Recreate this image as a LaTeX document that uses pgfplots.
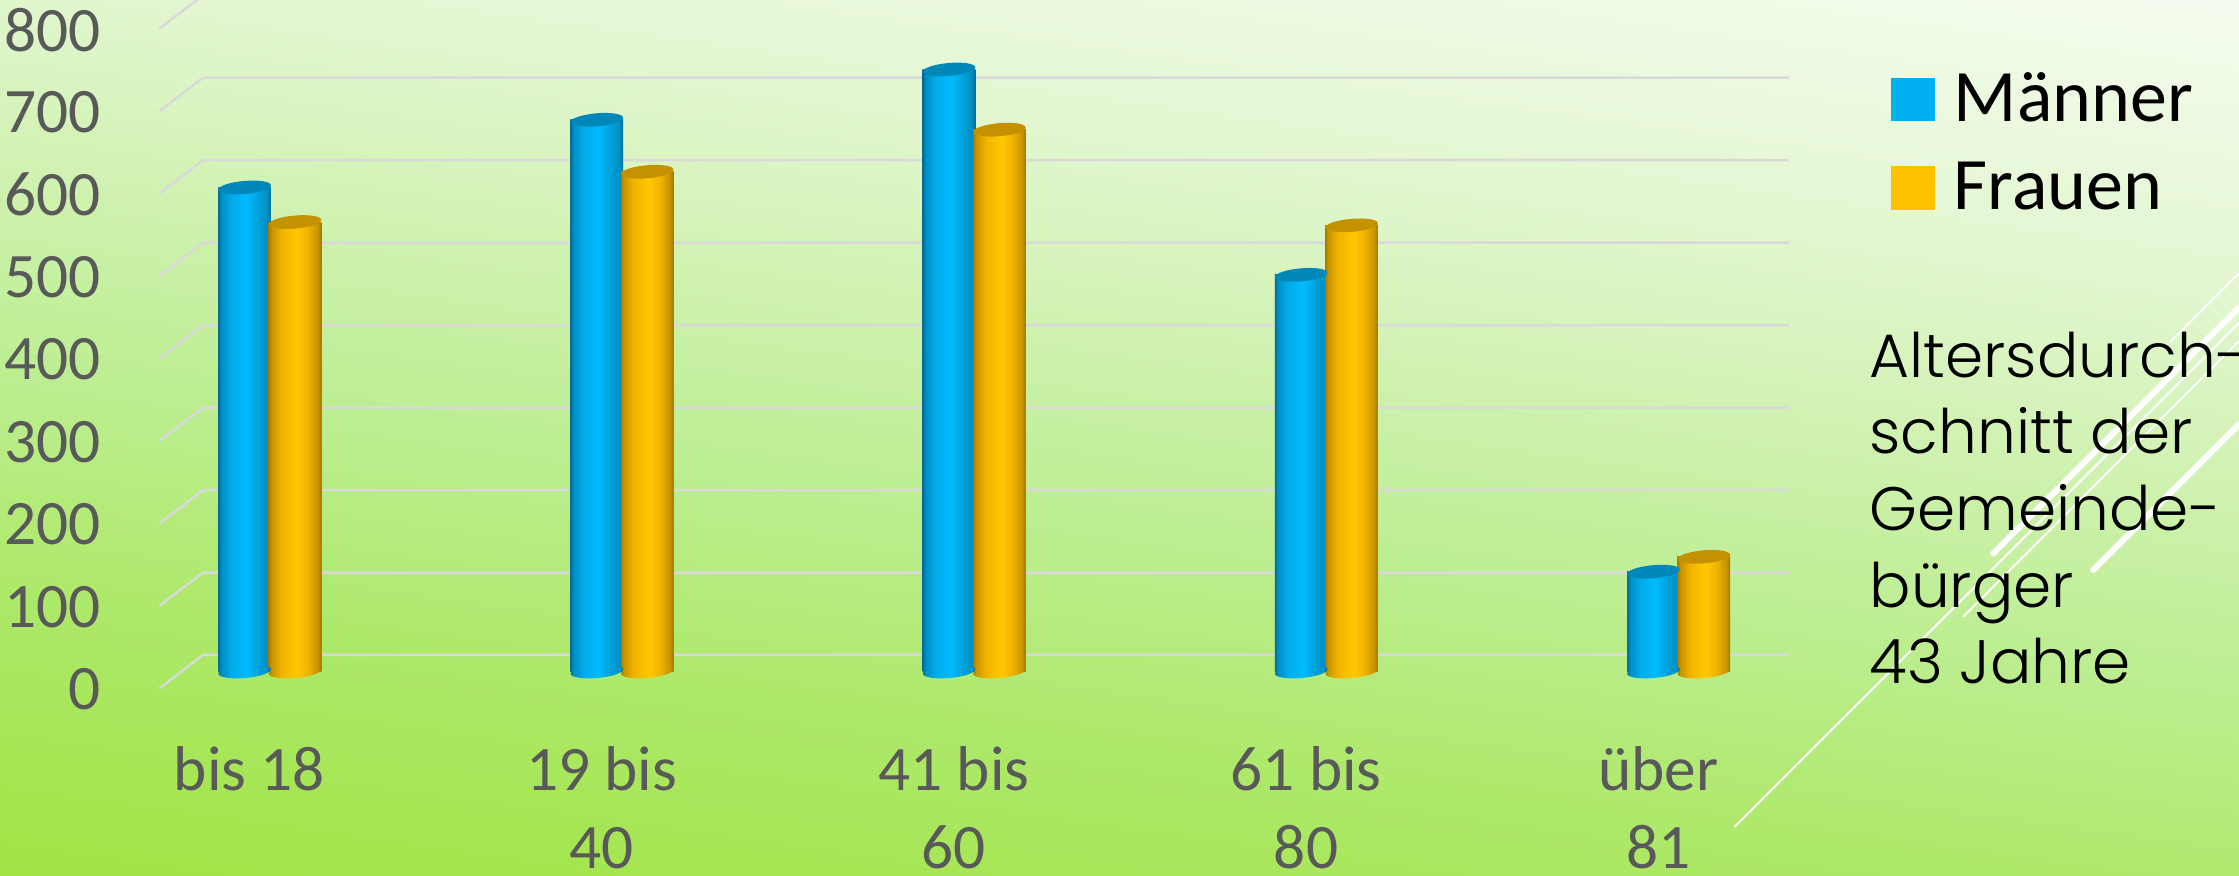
\documentclass[border=0pt]{standalone}
\usepackage{pgfplots}
\pgfplotsset{compat=1.18}
\usepackage{fontspec}
\setmainfont{Carlito}
\newfontfamily\gothic{Poppins Light}
\definecolor{tickc}{HTML}{595959}
\definecolor{gridc}{HTML}{DAD9DA}
\definecolor{mtop}{HTML}{0087BA}
\definecolor{ftop}{HTML}{C49100}
\definecolor{mleg}{HTML}{00B0F0}
\definecolor{fleg}{HTML}{FFC000}
\definecolor{b0}{HTML}{A0E444}
\definecolor{b1}{HTML}{AEE96C}
\definecolor{b2}{HTML}{BDEE92}
\definecolor{b3}{HTML}{E2F6CF}
\definecolor{b4}{HTML}{F4FCEF}
\pgfdeclareverticalshading{bggrad}{100bp}{color(0bp)=(b0); color(37.73bp)=(b0); color(43.87bp)=(b1); color(48.28bp)=(b2); color(56.13bp)=(b3); color(62.27bp)=(b4); color(100bp)=(b4)}
\definecolor{m0}{HTML}{00709A}
\definecolor{m1}{HTML}{0090C4}
\definecolor{m2}{HTML}{00ACE8}
\definecolor{m3}{HTML}{00BAFF}
\definecolor{m4}{HTML}{00A4DC}
\definecolor{m5}{HTML}{006E96}
\pgfdeclarehorizontalshading{cylM}{100bp}{color(0bp)=(m0); color(25bp)=(m0); color(28bp)=(m1); color(37bp)=(m2); color(52bp)=(m3); color(62bp)=(m4); color(71bp)=(m1); color(75bp)=(m5); color(100bp)=(m5)}
\definecolor{f0}{HTML}{A87C00}
\definecolor{f1}{HTML}{C99500}
\definecolor{f2}{HTML}{F0B400}
\definecolor{f3}{HTML}{FFC800}
\definecolor{f4}{HTML}{EFB300}
\definecolor{f5}{HTML}{A37800}
\pgfdeclarehorizontalshading{cylF}{100bp}{color(0bp)=(f0); color(25bp)=(f0); color(28bp)=(f1); color(37bp)=(f2); color(52bp)=(f3); color(62bp)=(f4); color(71bp)=(f1); color(75bp)=(f5); color(100bp)=(f5)}
\newcommand{\tiltell}{\pgftransformrotate{5}\pgfpathellipse{\pgfpointorigin}{\pgfqpoint{7.9pt}{0pt}}{\pgfqpoint{0pt}{1.95pt}}}
\pgfdeclareplotmark{capM}{\pgfsetfillcolor{mtop}\tiltell\pgfusepathqfill}
\pgfdeclareplotmark{capF}{\pgfsetfillcolor{ftop}\tiltell\pgfusepathqfill}
\pgfdeclareplotmark{baseM}{\tiltell\pgfshadepath{cylM}{0}\pgfusepath{discard}}
\pgfdeclareplotmark{baseF}{\tiltell\pgfshadepath{cylF}{0}\pgfusepath{discard}}
\pgfplotsset{
  barM/.style={forget plot,ybar,bar width=15.81pt,bar shift=-1.455pt,draw=none,shading=cylM},
  barF/.style={forget plot,ybar,bar width=15.81pt,bar shift=13.665pt,draw=none,shading=cylF},
  markM/.style={forget plot,only marks,mark=#1,mark options={xshift=-1.455pt}},
  markF/.style={forget plot,only marks,mark=#1,mark options={xshift=13.665pt}},
}
\begin{document}
\begin{tikzpicture}[x=0.3pt,y=0.3pt]
% background
\begin{scope}
\clip (0,0) rectangle (2239,876);
\shade[shading=bggrad,shading angle=-8] (-80.5,-762) rectangle (2319.5,1638);
\end{scope}
% decorative diagonals
\begin{scope}
\clip (0,0) rectangle (2239,876);
\draw[white,line width=0.6pt] (2239,876-273.3) -- (2170,876-342.3);
\draw[white,line width=1.8pt,line cap=round] (2239,876-307.7) -- (1993.3,876-553.3);
\draw[white,line width=0.6pt] (2239,876-322.7) -- (1734.5,876-827);
\draw[white,line width=0.6pt] (2239,876-341) -- (1963,876-617);
\draw[white,line width=1.8pt,line cap=round] (2239,876-424.3) -- (2093.3,876-570);
\end{scope}
% main axis spans the full page
\begin{axis}[
  at={(0,0)}, anchor=south west, scale only axis,
  width=671.7pt, height=262.8pt,
  xmin=-0.7084, xmax=5.6488, ymin=-248, ymax=814.3,
  clip=false,
  axis line style={draw=none}, tick style={draw=none},
  xtick={0,1,2,3,4},
  xticklabels={bis 18,19 bis\\40,41 bis\\60,61 bis\\80,über\\81},
  x tick label style={align=center,anchor=north,yshift=39.14pt,inner sep=0pt,
     font=\fontsize{19}{23.6}\selectfont,text=tickc},
  ytick={0,100,...,800},
  /pgf/number format/assume math mode=true,
  y tick label style={anchor=east,xshift=30.5pt,yshift=-5.4pt,inner sep=0pt,
     font=\fontsize{19}{23}\selectfont,text=tickc},
  legend style={draw=none,fill=none,at={(axis description cs:0.8445,0.918)},anchor=north west,
     inner sep=0pt,font=\fontsize{22.2}{25}\selectfont,row sep=10.6pt,
     nodes={inner sep=0pt}},
  legend cell align=left,
  unbounded coords=jump,
]
\addlegendimage{legend image code/.code={\fill[mleg] (0,-6.3pt) rectangle (12.6pt,6.3pt); \path (18.3pt,0);}}
\addlegendimage{legend image code/.code={\fill[fleg] (0,-6.3pt) rectangle (12.6pt,6.3pt); \path (18.3pt,0);}}
% gridlines: front stub, then along the back wall (the wall lies 20 units above the bars' plane)
\addplot[gridc,line width=0.75pt,forget plot] coordinates {
 (-0.2558,-20.4)(-0.132,20)(4.3725,20) (nan,nan)
 (-0.2558,79.6)(-0.132,120)(4.3725,120) (nan,nan)
 (-0.2558,179.6)(-0.132,220)(4.3725,220) (nan,nan)
 (-0.2558,279.6)(-0.132,320)(4.3725,320) (nan,nan)
 (-0.2558,379.6)(-0.132,420)(4.3725,420) (nan,nan)
 (-0.2558,479.6)(-0.132,520)(4.3725,520) (nan,nan)
 (-0.2558,579.6)(-0.132,620)(4.3725,620) (nan,nan)
 (-0.2558,679.6)(-0.132,720)(4.3725,720) (nan,nan)
 (-0.2558,779.6)(-0.132,820)
};
% bis 18
\addplot[markM=baseM] coordinates {(0,0)};
\addplot[barM] coordinates {(0,587)};
\addplot[markM=capM] coordinates {(0,587)};
\addplot[markF=baseF] coordinates {(0,0)};
\addplot[barF] coordinates {(0,545)};
\addplot[markF=capF] coordinates {(0,545)};
% 19 bis 40
\addplot[markM=baseM] coordinates {(1,0)};
\addplot[barM] coordinates {(1,669)};
\addplot[markM=capM] coordinates {(1,669)};
\addplot[markF=baseF] coordinates {(1,0)};
\addplot[barF] coordinates {(1,606)};
\addplot[markF=capF] coordinates {(1,606)};
% 41 bis 60
\addplot[markM=baseM] coordinates {(2,0)};
\addplot[barM] coordinates {(2,730)};
\addplot[markM=capM] coordinates {(2,730)};
\addplot[markF=baseF] coordinates {(2,0)};
\addplot[barF] coordinates {(2,657)};
\addplot[markF=capF] coordinates {(2,657)};
% 61 bis 80
\addplot[markM=baseM] coordinates {(3,0)};
\addplot[barM] coordinates {(3,481)};
\addplot[markM=capM] coordinates {(3,481)};
\addplot[markF=baseF] coordinates {(3,0)};
\addplot[barF] coordinates {(3,541)};
\addplot[markF=capF] coordinates {(3,541)};
% ueber 81
\addplot[markM=baseM] coordinates {(4,0)};
\addplot[barM] coordinates {(4,121)};
\addplot[markM=capM] coordinates {(4,121)};
\addplot[markF=baseF] coordinates {(4,0)};
\addplot[barF] coordinates {(4,139)};
\addplot[markF=capF] coordinates {(4,139)};
\legend{Männer,Frauen}
\end{axis}
\node[anchor=north west,inner sep=0pt,align=left,font=\gothic\fontsize{18.4}{23}\selectfont,black] at (1869,876-331)
 {Altersdurch-\\schnitt der\\Gemeinde-\\bürger\\43 Jahre};
\pgfresetboundingbox
\useasboundingbox (0,0) rectangle (2239,876);
\end{tikzpicture}
\end{document}
